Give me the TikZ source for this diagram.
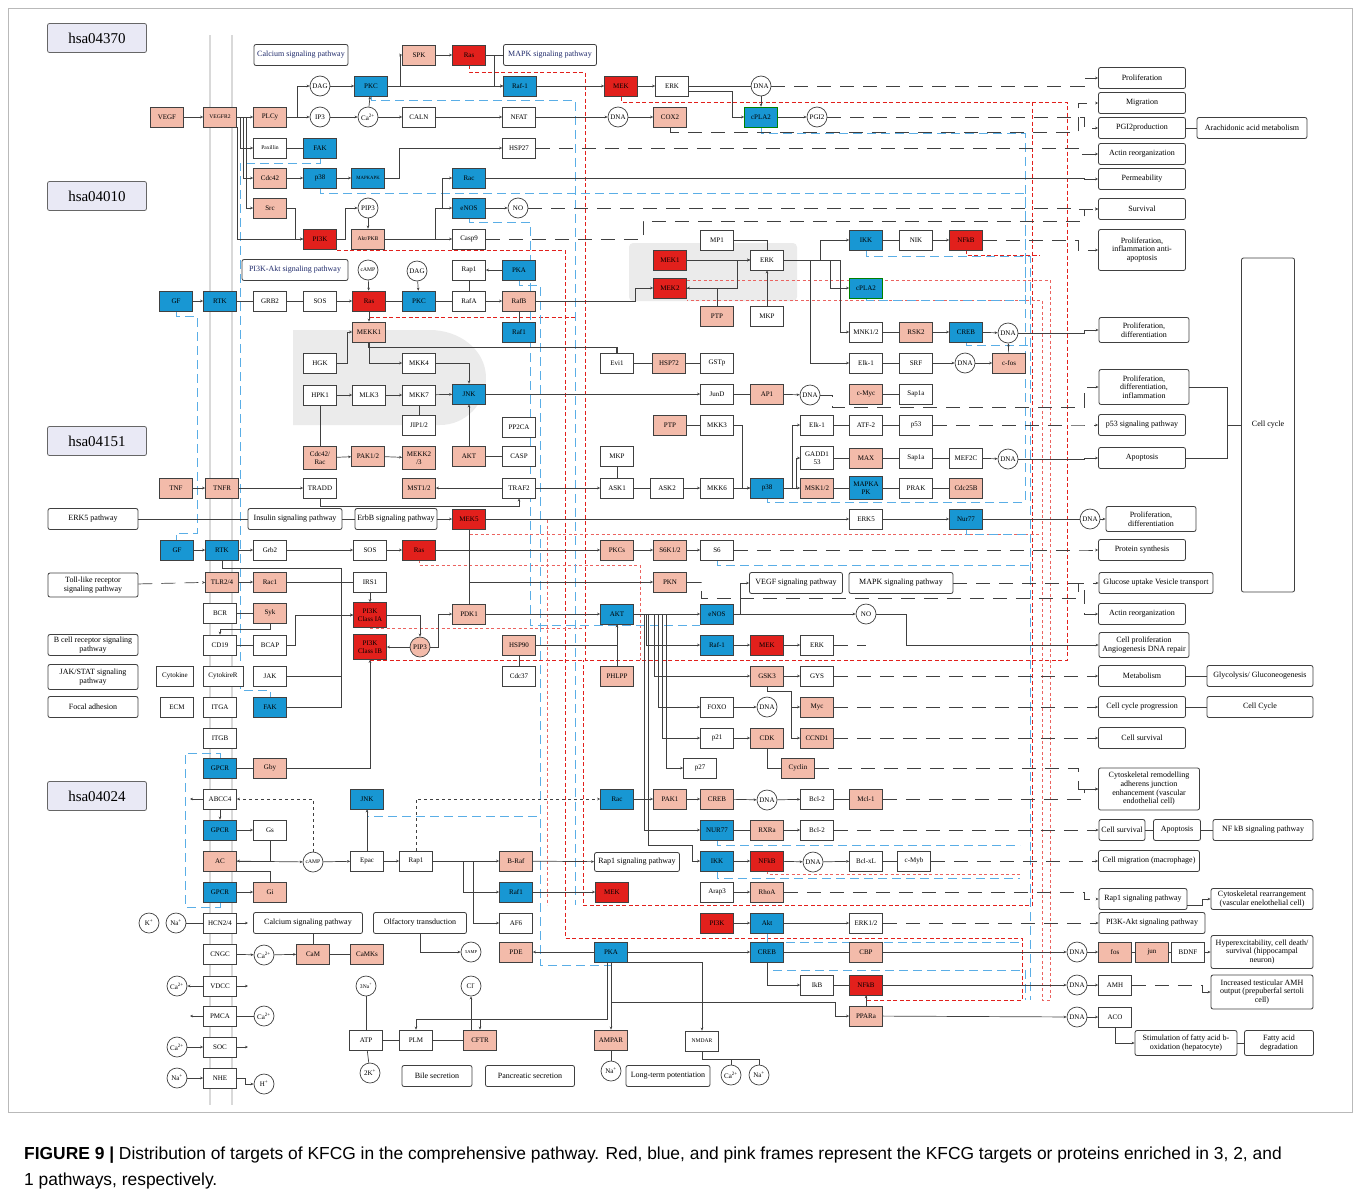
\documentclass[tikz,border=0pt]{standalone}
\usepackage{fontspec}
\setmainfont{Liberation Serif}
\newfontfamily\capfont{Liberation Sans}
\usetikzlibrary{arrows.meta,calc,positioning}
\definecolor{kpink}{HTML}{F3BBAA}
\definecolor{kblue}{HTML}{1897D3}
\definecolor{kred}{HTML}{E2201C}
\definecolor{kbluel}{HTML}{5AAEE6}
\definecolor{kgray}{HTML}{EBEBEB}
\definecolor{hsafill}{HTML}{E9E9F5}
\definecolor{pathnavy}{HTML}{1F2A6B}
\newcommand{\gsz}{\fontsize{7}{7.6}\selectfont}
\newcommand{\gsm}{\fontsize{5.6}{6}\selectfont}
\newcommand{\osz}{\fontsize{8}{8.7}\selectfont}
\tikzset{
  gene/.style={draw=black!75, fill=white, line width=0.7pt, minimum width=33pt, minimum height=20pt, inner sep=0.5pt, font=\gsz, align=center},
  pinkgene/.style={gene, fill=kpink},
  bluegene/.style={gene, fill=kblue},
  redgene/.style={gene, fill=kred},
  mol/.style={circle, draw=black!75, fill=white, line width=0.7pt, minimum size=20pt, inner sep=0pt, font=\gsz},
  outcome/.style={draw=black!75, fill=white, rounded corners=2pt, line width=0.8pt, minimum width=87pt, minimum height=21pt, inner sep=1pt, font=\osz, align=center},
  pathway/.style={outcome, text=pathnavy},
  hsa/.style={draw=black!60, fill=hsafill, rounded corners=2pt, line width=0.8pt, minimum width=99pt, minimum height=29pt, font=\fontsize{15}{16}\selectfont},
  arr/.style={->, line width=0.7pt, black!75},
  link/.style={line width=0.7pt, black!75},
  farlink/.style={link, dash pattern=on 14pt off 9pt},
  reddash/.style={draw=kred, line width=1pt, dash pattern=on 4pt off 2.5pt},
  lightred/.style={draw=kred!70, line width=0.8pt, dash pattern=on 3pt off 2.5pt},
  bluedash/.style={draw=kbluel, line width=0.9pt, dash pattern=on 9pt off 5pt}
}

\begin{document}
\begin{tikzpicture}[x=1pt, y=-1pt, >={Stealth[length=3pt,width=2.6pt]}]
\useasboundingbox (0,0) rectangle (1356,1194);

% frame, membrane and shaded groups
\draw[gray!55, line width=0.8pt] (8,8) rectangle (1352,1112);
\draw[gray!30, line width=1.5pt] (210,35) -- (210,1105);
\draw[gray!30, line width=1.5pt] (232,35) -- (232,1105);
\fill[kgray] (293,330) -- (430,330) to[out=0,in=90] (486,378) to[out=-90,in=0] (440,425) -- (293,425) -- cycle;
\fill[kgray, rounded corners=4pt] (629,243) rectangle (797,301);

% red frames
\draw[reddash] (469,65) |- (585,72) -- (585,660);
\draw[reddash] (621,97) |- (1067,102) -- (1067,660) -- (585,660);
\draw[reddash] (337,250) -- (565,250) -- (565,938) -- (1022,938) -- (1022,1000) -- (866,1000) -- (866,995);
\draw[reddash] (1032,102) -- (1032,905) -- (583,905) -- (583,660);
\draw[reddash] (369,311) |- (577,317);
\draw[lightred] (654,280) -- (1050,280) -- (1050,1000) -- (1042,1000) -- (1042,300) -- (687,300);
\draw[lightred] (469,529) |- (1043,534);
\draw[lightred] (419,560) |- (640,565) -- (640,660);
\draw[lightred] (370,628) -- (583,628);
\draw[reddash] (370,660) -- (583,660);
\draw[lightred] (547,520) -- (547,905);
\draw[reddash] (966,250) |- (1040,255);
\draw[lightred] (767,871) |- (1022,874);

% blue frames
\draw[bluedash] (176,311) |- (197,316) -- (197,533) -- (176,533) -- (176,540);
\draw[bluedash] (320,158) |- (240,163) -- (240,690) -- (270,690) -- (270,697);
\draw[bluedash] (320,188) |- (1025,193) -- (1025,502) -- (767,502) -- (767,498);
\draw[bluedash] (761,127) |- (1025,133) -- (1025,300) -- (866,300) -- (866,298);
\draw[bluedash] (371,96) |- (575,100) -- (575,905);
\draw[bluedash] (519,280) |- (540,285) -- (540,965) -- (611,965) -- (611,962);
\draw[bluedash] (469,218) |- (530,222) -- (530,625) -- (700,625);
\draw[bluedash] (866,250) |- (1030,256) -- (1030,1000);
\draw[bluedash] (966,342) |- (1030,345);
\draw[bluedash] (966,529) |- (1030,534);
\draw[bluedash] (717,560) |- (1030,565);
\draw[bluedash] (220,758) |- (185,753) -- (185,907) -- (220,907) -- (220,902);
\draw[bluedash] (367,809) |- (540,816);
\draw[bluedash] (717,871) |- (1020,878);
\draw[bluedash] (717,840) |- (1020,845);
\draw[bluedash] (767,933) |- (1020,942);
\draw[bluedash] (767,962) |- (1025,970) -- (1025,1000);

% pathway labels
\node[hsa] (hsaA) at (97,38) {hsa04370};
\node[hsa] (hsaB) at (97,196) {hsa04010};
\node[hsa] (hsaC) at (97,441) {hsa04151};
\node[hsa] (hsaD) at (97,796) {hsa04024};

% VEGF block
\node[pathway, minimum width=94pt] (calpath) at (301,55) {Calcium signaling pathway};
\node[pinkgene] (spk) at (419,55) {SPK};
\node[redgene] (rasA) at (469,55) {Ras};
\node[pathway, minimum width=93pt] (mapkpath) at (550,55) {MAPK signaling pathway};
\node[mol] (dagA) at (320,86) {DAG};
\node[bluegene] (pkcA) at (371,86) {PKC};
\node[bluegene] (raf1A) at (520,86) {Raf-1};
\node[redgene] (mekA) at (621,86) {MEK};
\node[gene] (erkA) at (672,86) {ERK};
\node[mol] (dnaA) at (761,86) {DNA};
\node[pinkgene] (vegf) at (167,117) {VEGF};
\node[pinkgene, font=\gsm] (vegfr2) at (220,117) {VEGFR2};
\node[pinkgene] (plcy) at (270,117) {PLCy};
\node[mol] (ip3) at (320,117) {IP3};
\node[mol] (caA) at (368,117) {Ca\textsuperscript{2+}};
\node[gene] (caln) at (419,117) {CALN};
\node[gene] (nfat) at (519,117) {NFAT};
\node[mol] (dnaB) at (618,117) {DNA};
\node[pinkgene] (cox2) at (670,117) {COX2};
\node[bluegene, draw=green!50!black] (cpla2A) at (761,117) {cPLA2};
\node[mol] (pgi2) at (817,117) {PGI2};
\node[gene, font=\gsm] (paxillin) at (270,148) {Paxillin};
\node[bluegene] (fakA) at (320,148) {FAK};
\node[gene] (hsp27) at (519,148) {HSP27};
\node[pinkgene] (cdc42) at (270,178) {Cdc42};
\node[bluegene] (p38A) at (320,178) {p38};
\node[bluegene, font=\fontsize{4.8}{5}\selectfont] (mapkapkA) at (368,178) {MAPKAPK};
\node[bluegene] (racA) at (469,178) {Rac};
\node[pinkgene] (src) at (270,208) {Src};
\node[mol] (pip3A) at (368,208) {PIP3};
\node[bluegene] (enosA) at (469,208) {eNOS};
\node[mol] (noA) at (518,208) {NO};
\node[redgene] (pi3kA) at (320,239) {PI3K};
\node[pinkgene, font=\gsm] (aktpkb) at (368,239) {Akt/PKB};
\node[gene] (casp9) at (469,239) {Casp9};

% MAPK block
\node[pathway, minimum width=106pt] (pi3kpath) at (295,270) {PI3K-Akt signaling pathway};
\node[mol, font=\gsm] (campA) at (368,270) {cAMP};
\node[mol] (dagB) at (417,271) {DAG};
\node[gene] (rap1A) at (469,270) {Rap1};
\node[bluegene] (pkaA) at (519,270) {PKA};
\node[gene] (mp1) at (717,240) {MP1};
\node[bluegene] (ikkA) at (866,240) {IKK};
\node[gene] (nik) at (916,240) {NIK};
\node[redgene] (nfkbA) at (966,240) {NFkB};
\node[redgene] (mek1) at (670,260) {MEK1};
\node[gene] (erkB) at (767,260) {ERK};
\node[redgene] (mek2) at (670,288) {MEK2};
\node[bluegene, draw=green!50!black] (cpla2B) at (866,288) {cPLA2};
\node[bluegene] (gfA) at (176,301) {GF};
\node[bluegene] (rtkA) at (220,301) {RTK};
\node[gene] (grb2A) at (270,301) {GRB2};
\node[gene] (sosA) at (320,301) {SOS};
\node[redgene] (rasB) at (369,301) {Ras};
\node[bluegene] (pkcB) at (419,301) {PKC};
\node[gene] (rafa) at (469,301) {RafA};
\node[pinkgene] (rafb) at (519,301) {RafB};
\node[pinkgene] (ptpA) at (717,316) {PTP};
\node[gene] (mkpA) at (767,316) {MKP};
\node[pinkgene] (mekk1) at (369,332) {MEKK1};
\node[bluegene] (raf1B) at (519,332) {Raf1};
\node[gene] (mnk) at (866,332) {MNK1/2};
\node[pinkgene] (rsk2) at (916,332) {RSK2};
\node[bluegene] (crebA) at (966,332) {CREB};
\node[mol] (dnaC) at (1008,333) {DNA};
\node[gene] (hgk) at (320,363) {HGK};
\node[gene] (mkk4) at (419,363) {MKK4};
\node[gene] (evi1) at (617,363) {Evi1};
\node[pinkgene] (hsp72) at (669,363) {HSP72};
\node[gene] (gstp) at (717,363) {GSTp};
\node[gene] (elk1A) at (866,363) {Elk-1};
\node[gene] (srf) at (916,363) {SRF};
\node[mol] (dnaD) at (965,363) {DNA};
\node[pinkgene] (cfos) at (1009,363) {c-fos};
\node[gene] (hpk1) at (320,395) {HPK1};
\node[gene] (mlk3) at (369,395) {MLK3};
\node[gene] (mkk7) at (419,395) {MKK7};
\node[bluegene] (jnkA) at (469,394) {JNK};
\node[gene] (jund) at (717,394) {JunD};
\node[pinkgene] (ap1) at (767,394) {AP1};
\node[mol] (dnaE) at (810,395) {DNA};
\node[pinkgene] (cmyc) at (866,394) {c-Myc};
\node[gene] (sap1aA) at (916,394) {Sap1a};
\node[gene] (jip) at (419,425) {JIP1/2};
\node[gene] (pp2ca) at (519,427) {PP2CA};
\node[pinkgene] (ptpB) at (670,425) {PTP};
\node[gene] (mkk3) at (717,425) {MKK3};
\node[gene] (elk1B) at (817,425) {Elk-1};
\node[gene] (atf2) at (866,425) {ATF-2};
\node[gene] (p53) at (916,425) {p53};
\node[pinkgene, minimum height=23pt] (cdcrac) at (320,458) {Cdc42/\\Rac};
\node[pinkgene] (pak12) at (368,456) {PAK1/2};
\node[pinkgene, minimum height=23pt] (mekk23) at (419,458) {MEKK2\\/3};
\node[pinkgene] (aktA) at (469,456) {AKT};
\node[gene] (casp) at (519,456) {CASP};
\node[gene] (mkpB) at (617,456) {MKP};
\node[gene, minimum height=23pt] (gadd) at (817,458) {GADD1\\53};
\node[pinkgene] (max) at (866,458) {MAX};
\node[gene] (sap1aB) at (916,458) {Sap1a};
\node[gene] (mef2c) at (966,458) {MEF2C};
\node[mol] (dnaF) at (1008,459) {DNA};
\node[pinkgene] (tnf) at (176,488) {TNF};
\node[pinkgene] (tnfr) at (222,488) {TNFR};
\node[gene] (tradd) at (320,488) {TRADD};
\node[pinkgene] (mst) at (419,488) {MST1/2};
\node[gene] (traf2) at (519,488) {TRAF2};
\node[gene] (ask1) at (617,488) {ASK1};
\node[gene] (ask2) at (667,488) {ASK2};
\node[gene] (mkk6) at (717,488) {MKK6};
\node[bluegene] (p38B) at (767,488) {p38};
\node[pinkgene] (msk) at (817,488) {MSK1/2};
\node[bluegene, minimum height=23pt] (mapkapkB) at (866,488) {MAPKA\\PK};
\node[gene] (prak) at (916,488) {PRAK};
\node[pinkgene] (cdc25b) at (966,488) {Cdc25B};

% ERK5 and PI3K-Akt block
\node[outcome, minimum width=90pt] (erk5path) at (93,519) {ERK5 pathway};
\node[outcome, minimum width=94pt] (inspath) at (295,519) {Insulin signaling pathway};
\node[outcome, minimum width=82pt] (erbbpath) at (396,519) {ErbB signaling pathway};
\node[redgene] (mek5) at (469,519) {MEK5};
\node[gene] (erk5) at (866,519) {ERK5};
\node[bluegene] (nur77A) at (966,519) {Nur77};
\node[mol] (dnaG) at (1090,519) {DNA};
\node[bluegene] (gfB) at (177,550) {GF};
\node[bluegene] (rtkB) at (222,550) {RTK};
\node[gene] (grb2B) at (270,550) {Grb2};
\node[gene] (sosB) at (370,550) {SOS};
\node[redgene] (rasC) at (419,550) {Ras};
\node[pinkgene] (pkcs) at (617,550) {PKCs};
\node[pinkgene] (s6k) at (670,550) {S6K1/2};
\node[gene] (s6) at (717,550) {S6};
\node[outcome, minimum width=90pt, minimum height=24pt] (tollpath) at (93,585) {Toll-like receptor\\signaling pathway};
\node[pinkgene] (tlr) at (222,582) {TLR2/4};
\node[pinkgene] (rac1) at (270,582) {Rac1};
\node[gene] (irs1) at (370,582) {IRS1};
\node[pinkgene] (pkn) at (670,582) {PKN};
\node[outcome, minimum width=93pt] (vegfpath) at (796,583) {VEGF signaling pathway};
\node[outcome, minimum width=104pt] (mapkpathB) at (901,583) {MAPK signaling pathway};
\node[gene] (bcr) at (220,613) {BCR};
\node[pinkgene] (syk) at (270,613) {Syk};
\node[redgene, minimum height=25pt] (pi3kIA) at (370,615) {PI3K\\Class IA};
\node[pinkgene] (pdk1) at (469,614) {PDK1};
\node[bluegene] (aktB) at (617,614) {AKT};
\node[bluegene] (enosB) at (717,614) {eNOS};
\node[mol] (noB) at (866,614) {NO};
\node[outcome, minimum width=90pt] (bcellpath) at (93,645) {B cell receptor signaling\\pathway};
\node[gene] (cd19) at (220,645) {CD19};
\node[gene] (bcap) at (270,645) {BCAP};
\node[redgene, minimum height=25pt] (pi3kIB) at (370,647) {PI3K\\Class IB};
\node[mol, fill=kpink] (pip3B) at (420,647) {PIP3};
\node[pinkgene] (hsp90) at (519,645) {HSP90};
\node[bluegene] (raf1C) at (717,645) {Raf-1};
\node[redgene] (mekB) at (767,645) {MEK};
\node[gene] (erkC) at (817,645) {ERK};
\node[outcome, minimum width=90pt, minimum height=25pt] (jakpath) at (93,677) {JAK/STAT signaling\\pathway};
\node[gene, minimum width=37pt] (cytokine) at (175,676) {Cytokine};
\node[gene, minimum width=40pt] (cytokirer) at (223,676) {CytokireR};
\node[gene] (jak) at (270,676) {JAK};
\node[gene] (cdc37) at (519,676) {Cdc37};
\node[pinkgene] (phlpp) at (617,676) {PHLPP};
\node[pinkgene] (gsk3) at (767,676) {GSK3};
\node[gene] (gys) at (817,676) {GYS};
\node[outcome, minimum width=90pt] (focal) at (93,707) {Focal adhesion};
\node[gene] (ecm) at (177,707) {ECM};
\node[gene] (itga) at (220,707) {ITGA};
\node[bluegene] (fakB) at (270,707) {FAK};
\node[gene] (foxo) at (717,707) {FOXO};
\node[mol] (dnaH) at (767,707) {DNA};
\node[pinkgene] (myc) at (817,707) {Myc};
\node[gene] (itgb) at (220,738) {ITGB};
\node[gene] (p21) at (717,738) {p21};
\node[pinkgene] (cdk) at (767,738) {CDK};
\node[pinkgene] (ccnd1) at (817,738) {CCND1};

% cAMP block
\node[bluegene] (gpcrA) at (220,768) {GPCR};
\node[pinkgene] (gby) at (270,768) {Gby};
\node[gene] (p27) at (700,768) {p27};
\node[pinkgene] (cyclin) at (798,768) {Cyclin};
\node[gene] (abcc4) at (220,799) {ABCC4};
\node[bluegene] (jnkB) at (367,799) {JNK};
\node[bluegene] (racB) at (617,799) {Rac};
\node[pinkgene] (pak1) at (670,799) {PAK1};
\node[pinkgene] (crebB) at (717,799) {CREB};
\node[mol] (dnaI) at (767,800) {DNA};
\node[gene] (bcl2A) at (817,799) {Bcl-2};
\node[pinkgene] (mcl1) at (866,799) {Mcl-1};
\node[bluegene] (gpcrB) at (220,830) {GPCR};
\node[gene] (gs) at (270,830) {Gs};
\node[bluegene] (nur77B) at (717,830) {NUR77};
\node[pinkgene] (rxra) at (767,830) {RXRa};
\node[gene] (bcl2B) at (817,830) {Bcl-2};
\node[pinkgene] (ac) at (220,861) {AC};
\node[mol, font=\gsm] (campB) at (313,862) {cAMP};
\node[gene] (epac) at (367,861) {Epac};
\node[gene] (rap1B) at (416,861) {Rap1};
\node[pinkgene] (braf) at (516,861) {B-Raf};
\node[outcome, minimum width=85pt, minimum height=19pt] (rap1path) at (637,862) {Rap1 signaling pathway};
\node[bluegene] (ikkB) at (717,861) {IKK};
\node[redgene] (nfkbB) at (767,861) {NFkB};
\node[mol] (dnaJ) at (813,862) {DNA};
\node[gene] (bclxl) at (866,861) {Bcl-xL};
\node[gene] (cmyb) at (914,861) {c-Myb};
\node[bluegene] (gpcrC) at (220,892) {GPCR};
\node[pinkgene] (gi) at (270,892) {Gi};
\node[bluegene] (raf1D) at (516,892) {Raf1};
\node[redgene] (mekC) at (612,892) {MEK};
\node[gene] (arap3) at (717,892) {Arap3};
\node[pinkgene] (rhoa) at (767,892) {RhoA};
\node[mol] (kion) at (149,923) {K\textsuperscript{+}};
\node[mol] (naA) at (176,923) {Na\textsuperscript{+}};
\node[gene] (hcn) at (220,923) {HCN2/4};
\node[outcome, minimum width=109pt] (calpathB) at (308,923) {Calcium signaling pathway};
\node[outcome, minimum width=93pt] (olfpath) at (420,923) {Olfactory transduction};
\node[gene] (af6) at (516,923) {AF6};
\node[redgene] (pi3kB) at (717,923) {PI3K};
\node[bluegene] (aktC) at (767,923) {Akt};
\node[gene] (erk12) at (866,923) {ERK1/2};
\node[gene] (cngc) at (220,954) {CNGC};
\node[mol] (caB) at (264,955) {Ca\textsuperscript{2+}};
\node[pinkgene] (cam) at (313,954) {CaM};
\node[pinkgene] (camks) at (367,954) {CaMKs};
\node[mol, font=\fontsize{4.5}{5}\selectfont] (amp5) at (471,952) {5AMP};
\node[pinkgene] (pde) at (516,952) {PDE};
\node[bluegene] (pkaB) at (611,952) {PKA};
\node[bluegene] (crebC) at (767,952) {CREB};
\node[pinkgene] (cbp) at (866,952) {CBP};
\node[mol] (caC) at (177,986) {Ca\textsuperscript{2+}};
\node[gene] (vdcc) at (220,986) {VDCC};
\node[mol, font=\gsm] (na3) at (366,986) {3Na\textsuperscript{+}};
\node[mol] (cl) at (471,986) {Cl\textsuperscript{-}};
\node[gene] (ikb) at (817,985) {IkB};
\node[redgene] (nfkbC) at (866,985) {NFkB};
\node[gene] (pmca) at (220,1016) {PMCA};
\node[mol] (caD) at (264,1016) {Ca\textsuperscript{2+}};
\node[pinkgene] (ppara) at (866,1016) {PPARa};
\node[mol] (caE) at (177,1047) {Ca\textsuperscript{2+}};
\node[gene] (soc) at (220,1047) {SOC};
\node[gene] (atp) at (366,1040) {ATP};
\node[gene] (plm) at (416,1040) {PLM};
\node[pinkgene] (cftr) at (480,1040) {CFTR};
\node[pinkgene] (ampar) at (611,1040) {AMPAR};
\node[gene, font=\gsm] (nmdar) at (702,1041) {NMDAR};
\node[mol] (naB) at (177,1078) {Na\textsuperscript{+}};
\node[gene] (nhe) at (220,1078) {NHE};
\node[mol] (hion) at (264,1084) {H\textsuperscript{+}};
\node[mol] (k2) at (370,1073) {2K\textsuperscript{+}};
\node[outcome, minimum width=70pt] (bile) at (437,1076) {Bile secretion};
\node[outcome, minimum width=89pt] (pancr) at (530,1076) {Pancreatic secretion};
\node[mol] (naC) at (611,1071) {Na\textsuperscript{+}};
\node[outcome, minimum width=84pt] (ltp) at (668,1076) {Long-term potentiation};
\node[mol] (caF) at (731,1075) {Ca\textsuperscript{2+}};
\node[mol] (naD) at (759,1075) {Na\textsuperscript{+}};
\coordinate (abccout) at (190,799);
\coordinate (hcnout) at (248,923);
\coordinate (vdccout) at (248,986);
\coordinate (pmcaout) at (190,1016);
\coordinate (socout) at (248,1047);

% outcomes
\node[outcome] (oProlif) at (1142,78) {Proliferation};
\node[outcome] (oMigr) at (1142,103) {Migration};
\node[outcome] (oPgi) at (1142,128) {PGI2production};
\node[outcome, minimum width=110pt] (oArach) at (1252,128) {Arachidonic acid metabolism};
\node[outcome] (oActin) at (1142,154) {Actin reorganization};
\node[outcome] (oPerm) at (1142,179) {Permeability};
\node[outcome] (oSurv) at (1142,209) {Survival};
\node[outcome, minimum height=41pt] (oProlInf) at (1142,250) {Proliferation,\\inflammation anti-\\apoptosis};
\node[outcome, minimum width=90pt, minimum height=25pt] (oPD1) at (1144,330) {Proliferation,\\differentiation};
\node[outcome, minimum width=90pt, minimum height=35pt] (oPDI) at (1144,387) {Proliferation,\\differentiation,\\inflammation};
\node[outcome, minimum width=53pt, minimum height=334pt] (cellcycle) at (1268,425) {Cell cycle};
\node[outcome] (oP53) at (1142,425) {p53 signaling pathway};
\node[outcome] (oApop) at (1142,458) {Apoptosis};
\node[outcome, minimum width=90pt, minimum height=25pt] (oPD2) at (1151,519) {Proliferation,\\differentiation};
\node[outcome] (oProt) at (1142,550) {Protein synthesis};
\node[outcome, minimum width=114pt] (oGluc) at (1156,583) {Glucose uptake Vesicle transport};
\node[outcome] (oActin2) at (1142,614) {Actin reorganization};
\node[outcome, minimum width=90pt, minimum height=25pt] (oCellProl) at (1144,645) {Cell proliferation\\Angiogenesis DNA repair};
\node[outcome] (oMetab) at (1142,676) {Metabolism};
\node[outcome, minimum width=106pt] (oGlyc) at (1260,676) {Glycolysis/ Gluconeogenesis};
\node[outcome] (oCCP) at (1142,707) {Cell cycle progression};
\node[outcome, minimum width=106pt] (oCC) at (1260,707) {Cell Cycle};
\node[outcome] (oCS) at (1142,738) {Cell survival};
\node[outcome, minimum width=101pt, minimum height=42pt] (oCyto) at (1149,789) {Cytoskeletal remodelling\\adherens junction\\enhancement (vascular\\endothelial cell)};
\node[outcome, minimum width=46pt] (oCS2) at (1122,830) {Cell survival};
\node[outcome, minimum width=47pt] (oApop2) at (1177,830) {Apoptosis};
\node[outcome, minimum width=100pt] (oNFkB) at (1263,830) {NF kB signaling pathway};
\node[outcome, minimum width=101pt] (oMigMac) at (1149,861) {Cell migration (macrophage)};
\node[outcome, minimum width=88pt] (oRap1) at (1143,899) {Rap1 signaling pathway};
\node[outcome, minimum width=102pt] (oCytoR) at (1262,899) {Cytoskeletal rearrangement\\(vascular enelothelial cell)};
\node[outcome, minimum width=106pt] (oPI3K) at (1152,923) {PI3K-Akt signaling pathway};
\node[mol] (dnaK) at (1077,952) {DNA};
\node[pinkgene] (fos) at (1115,952) {fos};
\node[pinkgene] (jun) at (1152,952) {jun};
\node[gene] (bdnf) at (1188,952) {BDNF};
\node[outcome, minimum width=102pt, minimum height=33pt] (oHyper) at (1262,952) {Hyperexcitability, cell death/\\survival (hippocampal\\neuron)};
\node[mol] (dnaL) at (1077,985) {DNA};
\node[gene] (amh) at (1115,985) {AMH};
\node[outcome, minimum width=102pt, minimum height=34pt] (oAMH) at (1262,992) {Increased testicular AMH\\output (prepuberfal sertoli\\cell)};
\node[mol] (dnaM) at (1077,1017) {DNA};
\node[gene] (aco) at (1115,1017) {ACO};
\node[outcome, minimum width=102pt, minimum height=25pt] (oStim) at (1186,1043) {Stimulation of fatty acid b-\\oxidation (hepatocyte)};
\node[outcome, minimum width=69pt, minimum height=25pt] (oFatty) at (1279,1043) {Fatty acid\\degradation};

% VEGF connectors
\draw[arr] (vegf) -- (vegfr2);
\draw[arr] (vegfr2) -- (plcy);
\draw[arr] ([xshift=3pt]vegfr2.east) |- (paxillin);
\draw[arr] ([xshift=6pt]vegfr2.east) |- (cdc42);
\draw[arr] ([xshift=9pt]vegfr2.east) |- (src);
\draw[arr] (vegfr2.south east) |- (pi3kA);
\draw[arr] (plcy.east) -- ++(10pt,0pt) |- (dagA);
\draw[arr] (plcy) -- (ip3);
\draw[arr] (dagA) -- (pkcA);
\draw[arr] (ip3) -- (caA);
\draw[arr] (caA) -- (pkcA);
\draw[arr] (caA) -- (caln);
\draw[arr] (caln) -- (nfat);
\draw[arr] (nfat) -- (dnaB);
\draw[arr] (dnaB) -- (cox2);
\draw[arr] (pkcA.east) -- ++(12pt,0pt) |- (spk);
\draw[arr] (spk) -- (rasA);
\draw[link] (rasA) -- (mapkpath);
\draw[arr] (rasA.east) -- ++(8pt,0pt) |- (raf1A);
\draw[arr] (pkcA) -- (raf1A);
\draw[arr] (raf1A) -- (mekA);
\draw[arr] (mekA) -- (erkA);
\draw[link] (erkA) -- (dnaA);
\draw[arr] (dnaA) -- (cpla2A);
\draw[arr] ([yshift=-5pt]erkA.east) -| ([xshift=-12pt]cpla2A.west) -- (cpla2A);
\draw[arr] (cpla2A) -- (pgi2);
\draw[link] (paxillin) -- (fakA);
\draw[arr] (cdc42) -- (p38A);
\draw[arr] (p38A) -- (mapkapkA);
\draw[arr] (mapkapkA.east) -- ++(14pt,0pt) |- (hsp27);
\draw[arr] (src.east) -- ++(8pt,0pt) |- (pi3kA);
\draw[arr] (pi3kA.east) -- ++(8pt,0pt) |- (pip3A);
\draw[arr] (pip3A) -- (aktpkb);
\draw[arr] (aktpkb.east) -- ++(50pt,0pt) |- (enosA);
\draw[arr] (aktpkb) -- (casp9);
\draw[arr] ([xshift=-10pt]enosA.west) |- (racA);
\draw[arr] (enosA) -- (noA);
\draw[farlink,->] (dnaA.east) -| ([xshift=-14pt]oProlif.west) -- (oProlif);
\draw[farlink,->] (cox2.south) -- ++(0pt,-5pt) -| ([xshift=-20pt]oMigr.west) -- (oMigr);
\draw[farlink,->] (pgi2) -| ([xshift=-14pt]oPgi.west) -- (oPgi);
\draw[farlink,->] (hsp27) -| ([xshift=-20pt]oActin.west) -- (oActin);
\draw[arr] (racA) -| ([xshift=-14pt]oPerm.west) -- (oPerm);
\draw[farlink,->] (noA) -| ([xshift=-20pt]oSurv.west) -- (oSurv);
\draw[farlink,->] (casp9.east) -- ++(157pt,0pt) -- ++(0pt,18pt) -| ([xshift=-14pt]oSurv.west) -- (oSurv);
\draw[farlink,->] (nfkbA) -| ([xshift=-20pt]oProlInf.west) -- (oProlInf);
\draw[link] (oPgi) -- (oArach);

% MAPK connectors
\draw[arr] (gfA) -- (rtkA);
\draw[link] (rtkA) -- (grb2A);
\draw[link] (grb2A) -- (sosA);
\draw[arr] (sosA) -- (rasB);
\draw[arr] (campA) -- (rasB);
\draw[arr] (rasB) -- (mekk1);
\draw[arr] (dagB) -- (pkcB);
\draw[link] (rasB) -- (pkcB);
\draw[link] (pkcB) -- (rafa);
\draw[arr] (rafa) -- (rafb);
\draw[arr] (pkaA) -- (rap1A);
\draw[link] (rap1A) -- (rafa);
\draw[link] (raf1B) -- (rafb);
\draw[arr] (rafb) -| ([xshift=-18pt]mek2.west) -- (mek2);
\draw[arr] (mek1) -- (erkB);
\draw[arr] (mek2.east) -- ++(50pt,0pt) |- (erkB);
\draw[link] (mp1.east) -| (erkB.north);
\draw[arr] (mkpA) -- (erkB);
\draw[arr] (ptpA) |- (mek2.east);
\draw[arr] (erkB.east) -- ++(36pt,0pt) |- (ikkA);
\draw[arr] (erkB.east) -- ++(46pt,0pt) |- (cpla2B);
\draw[arr] (erkB.east) -- ++(56pt,0pt) |- (mnk);
\draw[arr] (erkB.east) -- ++(26pt,0pt) |- (elk1A);
\draw[link] (ikkA) -- (nik);
\draw[arr] (nik) -- (nfkbA);
\draw[link] (mnk) -- (rsk2);
\draw[arr] (rsk2) -- (crebA);
\draw[arr] (crebA) -- (dnaC);
\draw[link] (elk1A) -- (srf);
\draw[arr] (srf) -- (dnaD);
\draw[arr] (dnaD) -- (cfos);
\draw[arr] (cfos) -- (dnaC);
\draw[arr] (dnaC) -| ([xshift=-14pt]oPD1.west) -- (oPD1);
\draw[link] (evi1) -- (hsp72);
\draw[link] (hsp72) -- (gstp);
\draw[link, line width=1.3pt] (mekk1.south) |- ([yshift=5pt]evi1.north) -- (evi1.north);
\draw[arr] (hgk.east) -- ++(10pt,0pt) |- (mekk1);
\draw[arr] (mekk1.south) |- (mkk4);
\draw[arr] (mkk4) -| (jnkA);
\draw[arr] (hpk1) -- (mlk3);
\draw[arr] (mlk3) -- (mkk7);
\draw[arr] (mkk7) -- (jnkA);
\draw[link] (jip) -- (mkk7);
\draw[link] (cdcrac) -- (hpk1);
\draw[arr] (cdcrac) -- (pak12);
\draw[arr] (pak12) -- (mekk23);
\draw[link] (aktA) -- (casp);
\draw[arr] (aktA) -- (jnkA);
\draw[arr] (tnf) -- (tnfr);
\draw[arr] (tnfr) -- (tradd);
\draw[arr] (tradd.south) |- ([yshift=-8pt]mst.south) -| (traf2.south);
\draw[arr] (traf2) -- (mst);
\draw[arr] (traf2) -- (ask1);
\draw[link] (ask1) -- (ask2);
\draw[arr] (ask2) -- (mkk6);
\draw[arr] (mkk6) -- (p38B);
\draw[arr] (mkk3.east) -- ++(8pt,0pt) |- (p38B);
\draw[arr] (p38B.east) -- ++(8pt,0pt) |- (elk1B);
\draw[arr] (p38B.east) -- ++(12pt,0pt) |- (gadd);
\draw[arr] (p38B) -- (msk);
\draw[link] (msk) -- (mapkapkB);
\draw[link] (mapkapkB) -- (prak);
\draw[link] (prak) -- (cdc25b);
\draw[link] (elk1B) -- (atf2);
\draw[link] (atf2) -- (p53);
\draw[link] (gadd) -- (max);
\draw[link] (max) -- (sap1aB);
\draw[link] (sap1aB) -- (mef2c);
\draw[arr] (mef2c) -- (dnaF);
\draw[link] (cmyc) -- (sap1aA);
\draw[arr] (jnkA) -- (jund);
\draw[link] (jund) -- (ap1);
\draw[arr] (ap1) -- (dnaE);
\draw[link] (ptpB) -- (mkk3);
\draw[link] (mkpB) -- (ask1);
\draw[farlink,->] (dnaE.east) -- ++(12pt,0pt) -- ++(0pt,-12pt) -| ([xshift=-14pt]oPDI.west) -- (oPDI);
\draw[farlink,->] (p53) -| ([xshift=-14pt]oP53.west) -- (oP53);
\draw[arr] (dnaF) -| ([xshift=-14pt]oApop.west) -- (oApop);
\draw[link] (oPDI.east) -| ([xshift=-14pt]cellcycle.west) |- (oApop.east);
\draw[link] ([xshift=-14pt]cellcycle.west) -- (cellcycle.west);

% ERK5 and PI3K-Akt connectors
\draw[link] (erk5path) -- (inspath);
\draw[link] (inspath) -- (erbbpath);
\draw[arr] (erbbpath) -- (mek5);
\draw[arr] (mek5) -- (erk5);
\draw[arr] (erk5) -- (nur77A);
\draw[link] (nur77A) -- (dnaG);
\draw[arr] (dnaG) -- (oPD2);
\draw[arr] (gfB) -- (rtkB);
\draw[arr] (rtkB) -- (grb2B);
\draw[arr] (grb2B) -- (sosB);
\draw[arr] (sosB) -- (rasC);
\draw[arr] (rasC) -- (pkcs);
\draw[arr] (pkcs) -- (s6k);
\draw[arr] (s6k) -- (s6);
\draw[farlink,->] (s6) -| ([xshift=-14pt]oProt.west) -- (oProt);
\draw[farlink,->] (tollpath) -- (tlr);
\draw[arr] (tlr) -- (rac1);
\draw[link] (rac1) -- (irs1);
\draw[arr] (irs1) -- (pi3kIA);
\draw[link] (mek5) -- (pdk1);
\draw[arr] (pdk1.north) |- (pkn);
\draw[farlink,->] (pkn.east) -- ++(14pt,0pt) |- ([yshift=-4pt]vegfpath.south) -| ([xshift=-20pt]oGluc.west) -- (oGluc);
\draw[link] (bcr) -- (syk);
\draw[arr] (syk.south) -- ++(0pt,-6pt) -| (cd19.north);
\draw[link] (cd19) -- (bcap);
\draw[arr] (bcap.east) -- ++(8pt,0pt) |- (pi3kIA);
\draw[arr] (rtkB.south) |- ([yshift=-8pt]grb2B.south) -| ([xshift=-12pt]pi3kIA.west) -- (pi3kIA);
\draw[link] (jak.east) -| ([xshift=-12pt]pi3kIA.west);
\draw[link] (fakB.east) -| ([xshift=-12pt]pi3kIA.west);
\draw[arr] (pi3kIA.east) -| (pip3B.north);
\draw[arr] (pip3B) -- (pi3kIB);
\draw[arr] (pip3B.east) -- ++(8pt,0pt) |- (pdk1);
\draw[arr] (pdk1) -- (aktB);
\draw[link] (hsp90) -- (cdc37);
\draw[arr] (hsp90) -| (aktB.south);
\draw[link] (phlpp) -- (aktB);
\draw[arr] (aktB) -- (enosB);
\draw[arr] (enosB) -- (noB);
\draw[arr] (aktB.east) -- ++(12pt,0pt) |- (raf1C);
\draw[arr] (raf1C) -- (mekB);
\draw[arr] (mekB) -- (erkC);
\draw[arr] (aktB.east) -- ++(20pt,0pt) |- (gsk3);
\draw[arr] (aktB.east) -- ++(24pt,0pt) |- (foxo);
\draw[arr] (aktB.east) -- ++(28pt,0pt) |- (p21);
\draw[arr] (aktB.east) -- ++(32pt,0pt) |- (p27);
\draw[arr] (aktB.east) -- ++(10pt,0pt) |- (nur77B);
\draw[arr] (aktB.east) -- ++(14pt,0pt) |- ([xshift=-8pt,yshift=16pt]ikkB.west) |- (ikkB.west);
\draw[arr] (gsk3) -- (gys);
\draw[arr] (gsk3.south) -- ++(0pt,-5pt) -| ([xshift=-9pt]myc.west) -- (myc);
\draw[arr] (gsk3.south) -- ++(0pt,-5pt) -| ([xshift=-9pt]ccnd1.west) -- (ccnd1);
\draw[arr] (foxo) -- (dnaH);
\draw[arr] (p21) -- (cdk);
\draw[link] (cdk.south) |- (cyclin);
\draw[arr] ([xshift=6pt]enosB.east) |- (vegfpath);
\draw[arr] (noB.east) -- ++(30pt,0pt) |- (oCellProl);
\draw[farlink] (erkC) -- (noB.south |- erkC);
\draw[farlink,->] (mapkpathB) -| ([xshift=-14pt]oActin2.west) -- (oActin2);
\draw[farlink,->] (gys) -| ([xshift=-14pt]oMetab.west) -- (oMetab);
\draw[farlink,->] (myc) -| ([xshift=-20pt]oCCP.west) -- (oCCP);
\draw[farlink,->] (ccnd1) -| ([xshift=-14pt]oCS.west) -- (oCS);
\draw[link] (oMetab) -- (oGlyc);
\draw[link] (oCCP) -- (oCC);

% cAMP connectors
\draw[link] (gpcrA) -- (gby);
\draw[arr] (gby.east) -| (pi3kIB.south);
\draw[arr, dashed] (campB.north) |- (abcc4);
\draw[arr] (abcc4) -- (abccout);
\draw[arr] (abcc4) -- (gpcrB);
\draw[arr] (gpcrB) -- (gs);
\draw[arr] (gs.south) |- (ac);
\draw[arr] (ac) -- (campB);
\draw[arr] (campB) -- (epac);
\draw[arr] (epac) -- (rap1B);
\draw[arr] (epac) -- (jnkB);
\draw[arr] (rap1B) -- (braf);
\draw[arr] (rap1B.east) -- ++(30pt,0pt) |- (raf1D);
\draw[arr] (rap1B.east) -- ++(40pt,0pt) |- (af6);
\draw[arr, dashed] (rap1B.north) |- (racB);
\draw[arr] (braf) -- (rap1path);
\draw[arr] (raf1D) -- (mekC);
\draw[arr] (gpcrC) -- (gi);
\draw[link] (gi.north) |- (ac.south east);
\draw[link] (naA) -- (hcn);
\draw[arr] (hcn) -- (hcnout);
\draw[arr] (cngc) -- (caB);
\draw[arr] (caB) -- (cam);
\draw[link] (cam) -- (camks);
\draw[link] (cam.north) -- (cam.north |- calpathB.south);
\draw[arr] (olfpath.south) |- (amp5);
\draw[arr] (pkaB) -- (pde);
\draw[arr] (vdcc) -- (caC);
\draw[arr] (vdcc) -- (vdccout);
\draw[link] (pmca) -- (caD);
\draw[arr] (pmca) -- (pmcaout);
\draw[arr] (caE) -- (soc);
\draw[arr] (soc) -- (socout);
\draw[arr] (naB) -- (nhe);
\draw[arr] (nhe.east) -- ++(8pt,0pt) |- (hion);
\draw[link] (na3) -- (atp);
\draw[link] (atp) -- (k2);
\draw[link] (atp) -- (plm);
\draw[link] (plm) -- (cftr);
\draw[arr] (cftr.north -| cl) -- (cl);
\draw[arr] (pkaB) -- (ampar);
\draw[link] (ampar) -- (naC);
\draw[arr] ([xshift=-4pt]pkaB.south) |- ([yshift=10pt]cftr.north) -| (plm.north);
\draw[arr] ([yshift=10pt]cftr.north) -- (cftr.north);
\draw[arr] (pkaB.south east) -| (nmdar.north);
\draw[link] (nmdar.south) -- ++(0pt,-8pt) -| (caF.north);
\draw[link] (nmdar.south) -- ++(0pt,-8pt) -| (naD.north);
\draw[arr] (pkaB) -- (crebC);
\draw[link] (crebC) -- (cbp);
\draw[arr] (crebC.south) |- (ikb);
\draw[link] (ikb) -- (nfkbC);
\draw[arr] (ppara) -- (nfkbC);
\draw[arr] (pkaB.south) -- ++(0pt,-40pt) -| ([xshift=-14pt]ppara.west) -- (ppara);
\draw[arr] (racB) -- (pak1);
\draw[arr] (pak1) -- (crebB);
\draw[arr] (crebB) -- (dnaI);
\draw[arr] (dnaI) -- (bcl2A);
\draw[link] (bcl2A) -- (mcl1);
\draw[link] (nur77B) -- (rxra);
\draw[arr] (rxra) -- (bcl2B);
\draw[arr] (ikkB) -- (nfkbB);
\draw[arr] (nfkbB) -- (dnaJ);
\draw[arr] (dnaJ) -- (bclxl);
\draw[link] (bclxl) -- (cmyb);
\draw[arr] (arap3) -- (rhoa);
\draw[arr] (pi3kB) -- (aktC);
\draw[arr] (aktC) -- (erk12);
\draw[farlink,->] (cyclin) -| ([xshift=-20pt]oCyto.west) -- (oCyto);
\draw[farlink,->] (mcl1) -| ([xshift=-14pt]oCyto.west) -- (oCyto);
\draw[farlink,->] (bcl2B) -| ([xshift=-14pt]oCS2.west) -- (oCS2);
\draw[farlink,->] (cmyb) -| ([xshift=-20pt]oMigMac.west) -- (oMigMac);
\draw[farlink,->] (rhoa) -| ([xshift=-14pt]oRap1.west) -- (oRap1);
\draw[farlink,->] (erk12) -| ([xshift=-14pt]oPI3K.west) -- (oPI3K);
\draw[link] (oCS2) -- (oApop2);
\draw[link] (oApop2) -- (oNFkB);
\draw[arr] ([yshift=-6pt]oRap1.east) -| ([xshift=-8pt]oCytoR.west) -- (oCytoR);
\draw[arr] (cbp) -- (dnaK);
\draw[arr] (dnaK) -- (fos);
\draw[link] (fos) -- (jun);
\draw[link] (jun) -- (bdnf);
\draw[arr] (bdnf) -- (oHyper);
\draw[arr] (nfkbC) -- (dnaL);
\draw[arr] (dnaL) -- (amh);
\draw[farlink,->] (amh) -| ([xshift=-8pt]oAMH.west) -- (oAMH);
\draw[arr] (ppara) -- (dnaM);
\draw[arr] (dnaM) -- (aco);
\draw[arr] (aco.south) |- (oStim.west);
\draw[link] (oStim) -- (oFatty);

% caption
\node[anchor=base west, inner sep=0pt, font=\capfont\fontsize{17.4}{20}\selectfont] (capA) at (24,1159) {\textbf{FIGURE 9 |} Distribution of targets of KFCG in the comprehensive pathway. Red, blue, and pink frames represent the KFCG targets or proteins enriched in 3, 2, and};
\node[anchor=base west, inner sep=0pt, font=\capfont\fontsize{17.4}{20}\selectfont] (capB) at (24,1185) {1 pathways, respectively.};
\end{tikzpicture}
\end{document}
